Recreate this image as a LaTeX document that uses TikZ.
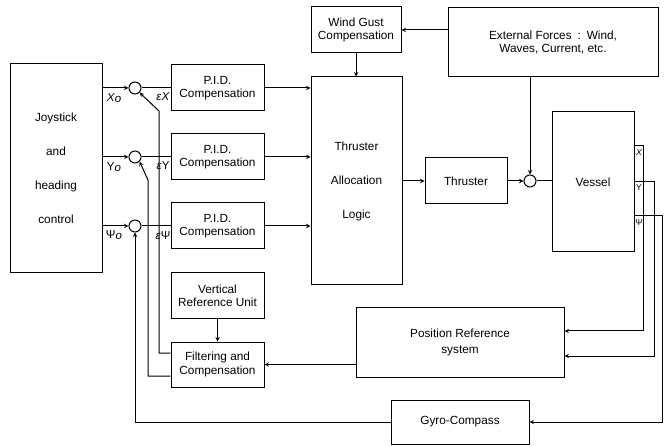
\documentclass[tikz,border=0pt]{standalone}
\usepackage{fontspec}
\setmainfont{Liberation Sans}
\usepackage{tikz}
\usetikzlibrary{shapes,positioning}
\newcommand{\subo}{\raisebox{-1.5pt}{\itshape o}}
\tikzset{blk/.style={rectangle,draw,line width=1pt,align=center,inner sep=0pt,font=\fontsize{11.8}{13.5}\selectfont},
         tall/.style={font=\fontsize{11.8}{34}\selectfont},
         sum/.style={circle,draw,line width=1pt,minimum size=12pt,inner sep=0pt},
         lbl/.style={inner sep=0pt,font=\fontsize{11.5}{13}\selectfont},
         outlbl/.style={inner sep=0pt,font=\fontsize{8.5}{9}\selectfont}}

\begin{document}
\begin{tikzpicture}[>=stealth,x=1pt,y=-1pt,line width=1pt]
    \useasboundingbox (0,0) rectangle (664,446);
    \node[blk,tall,minimum width=92pt,minimum height=209pt] (joy) at (56,168.5) {Joystick\\and\\heading\\control};
    \node[sum] (sx) at (135,88) {};
    \node[sum] (sy) at (135,157) {};
    \node[sum] (sp) at (135,226) {};
    \node[blk,minimum width=93pt,minimum height=46pt] (pid1) at (217.5,88) {P.I.D.\\Compensation};
    \node[blk,minimum width=93pt,minimum height=46pt] (pid2) at (217.5,157) {P.I.D.\\Compensation};
    \node[blk,minimum width=93pt,minimum height=46pt] (pid3) at (217.5,226) {P.I.D.\\Compensation};
    \node[blk,tall,minimum width=91pt,minimum height=208pt] (tal) at (356.5,181) {Thruster\\Allocation\\Logic};
    \node[blk,minimum width=90pt,minimum height=46pt] (wgc) at (356,30) {Wind Gust\\Compensation};
    \node[blk,minimum width=210pt,minimum height=69pt] (ext) at (553,42.5) {External Forces\enspace:\enspace Wind,\\Waves, Current, etc.};
    \node[blk,minimum width=82pt,minimum height=46pt] (thr) at (466,181) {Thruster};
    \node[sum] (sv) at (530,181) {};
    \node[blk,minimum width=82pt,minimum height=140pt] (ves) at (593,182) {Vessel};
    \node[blk,minimum width=208pt,minimum height=69pt] (prs) at (460,342.5) {Position Reference\\[3pt]system};
    \node[blk,minimum width=138pt,minimum height=44pt] (gyro) at (460,422) {Gyro-Compass};
    \node[blk,minimum width=93pt,minimum height=46pt] (vru) at (217.5,296) {Vertical\\Reference Unit};
    \node[blk,minimum width=93pt,minimum height=45pt] (fc) at (217.5,364.5) {Filtering and\\Compensation};

    \node[lbl] (lx) at (114,98) {\textit{X}\subo};
    \node[lbl] (ly) at (114,167) {Y\subo};
    \node[lbl] (lp) at (114,235) {Ψ\subo};
    \node[lbl] (ex) at (163,97) {\textit{εX}};
    \node[lbl] (ey) at (163,166) {\textit{ε}Y};
    \node[lbl] (ep) at (163,236) {\textit{ε}Ψ};
    \node[outlbl] (ox) at (639,153) {\textit{X}};
    \node[outlbl] (oy) at (639,188) {Y};
    \node[outlbl] (op) at (639,223) {Ψ};

    \coordinate (xr) at (643,146);
    \coordinate (xd) at (643,331);
    \coordinate (yr) at (654,182);
    \coordinate (yd) at (654,356);
    \coordinate (pr) at (662,216);
    \coordinate (pd) at (662,422);
    \coordinate (fx) at (159,111);
    \coordinate (fy) at (148,180);

    \draw [->] (joy.east |- sx) to [] (sx);
    \draw [->] (joy.east |- sy) to [] (sy);
    \draw [->] (joy.east |- sp) to [] (sp);
    \draw [] (sx) to [] (pid1);
    \draw [] (sy) to [] (pid2);
    \draw [] (sp) to [] (pid3);
    \draw [->] (pid1) to [] (pid1 -| tal.west);
    \draw [->] (pid2) to [] (pid2 -| tal.west);
    \draw [->] (pid3) to [] (pid3 -| tal.west);
    \draw [->] (ext.west |- wgc) to [] (wgc);
    \draw [->] (wgc.south) to [] (wgc.south |- tal.north);
    \draw [->] (tal.east |- thr) to [] (thr);
    \draw [->] (thr) to [] (sv);
    \draw [->] (sv |- ext.south) to [] (sv);
    \draw [] (sv) to [] (ves.west |- sv);
    \draw [->] (ves.east |- xr) -- (xr) -- (xd) -- (xd -| prs.east);
    \draw [->] (ves.east |- yr) -- (yr) -- (yd) -- (yd -| prs.east);
    \draw [->] (ves.east |- pr) -- (pr) -- (pd) -- (pd -| gyro.east);
    \draw [->] (gyro.west) -| (sp);
    \draw [->] (prs.west |- fc) to [] (fc);
    \draw [->] (vru) to [] (fc);
    \draw [->] ([yshift=11.5pt]fc.west) -| (fx) -- (sx.south east);
    \draw [->] ([yshift=-11.5pt]fc.west) -| (fy) -- (sy.south east);
\end{tikzpicture}
\end{document}
